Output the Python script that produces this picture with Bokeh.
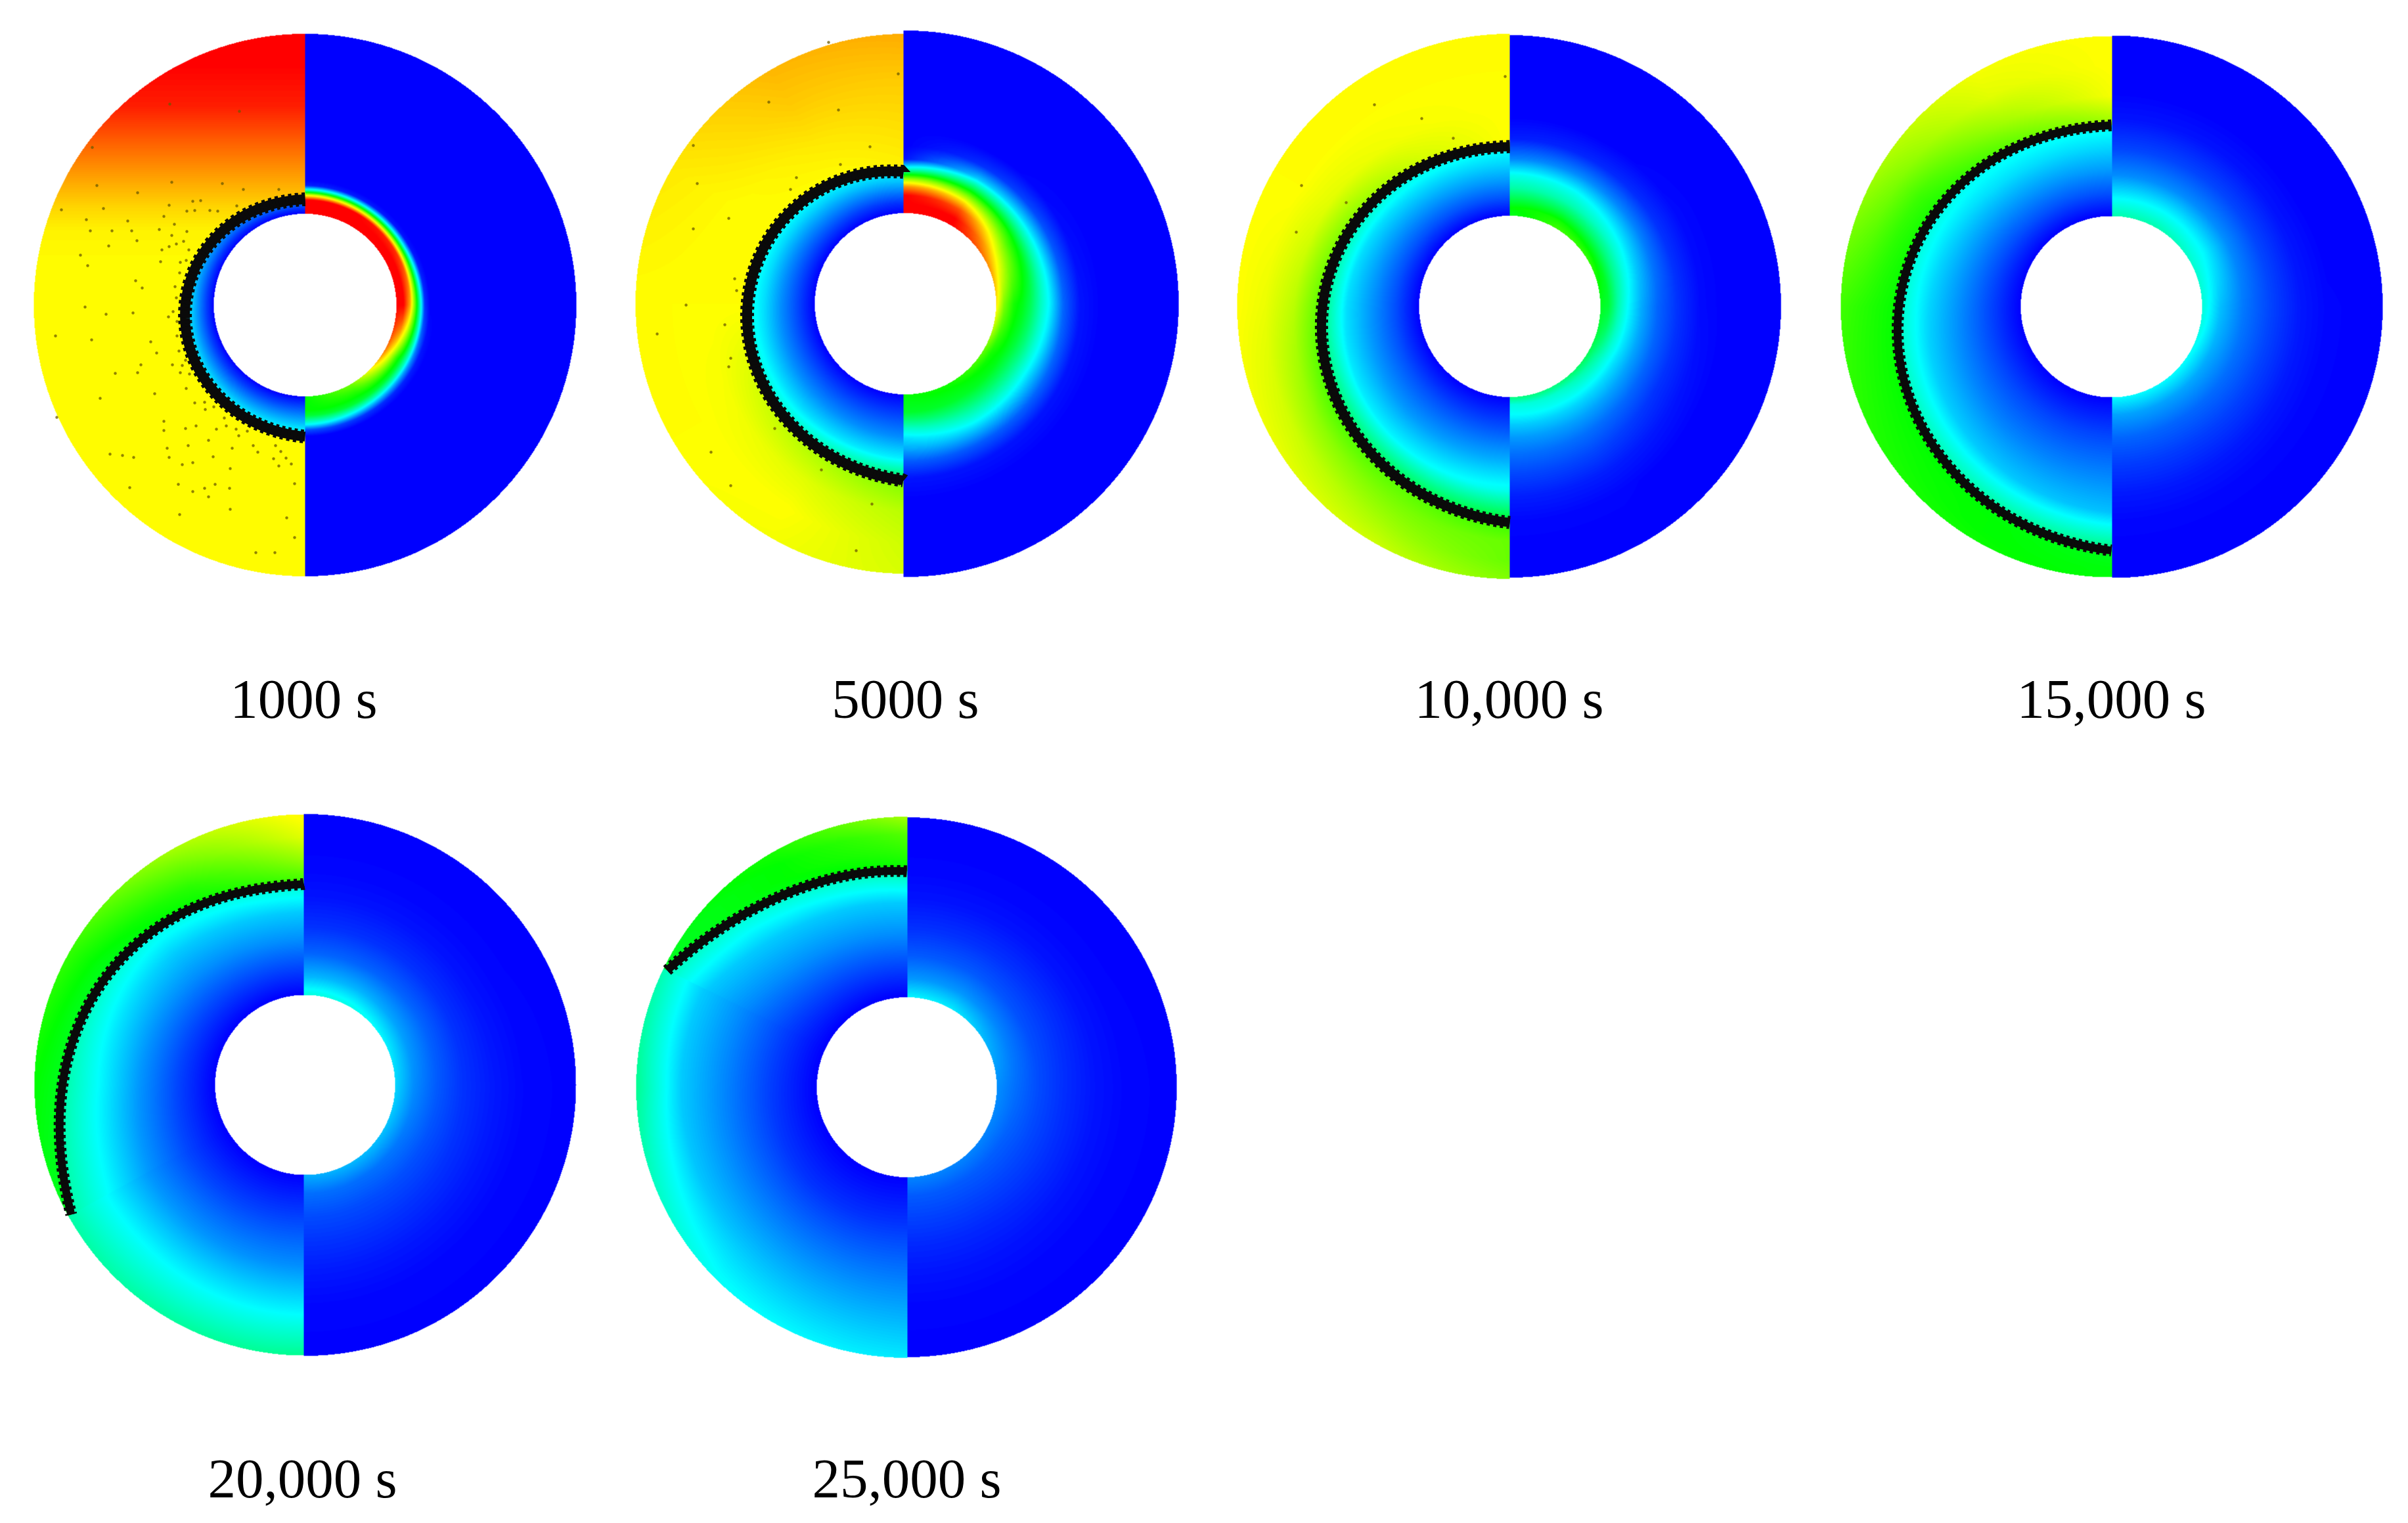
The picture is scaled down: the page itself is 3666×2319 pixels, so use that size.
import numpy as np
from bokeh.plotting import figure
from bokeh.models import Range1d, LinearColorMapper, ColumnDataSource
from bokeh.core.properties import value
from bokeh.embed import file_html
from bokeh.resources import INLINE

# ---- labels and positions of the six snapshots ----
labels = ["1000 s", "5000 s", "10,000 s", "15,000 s", "20,000 s", "25,000 s"]
label_x = [462, 1378, 2297, 3214, 460, 1380]
label_y = [1063, 1063, 1063, 1063, 2250, 2250]
disc_cx = [464, 1378, 2298, 3214, 464, 1380]
disc_cy = [464, 462, 466, 466.5, 1651.5, 1655]
disc_split = [464, 1375, 2298, 3215, 462, 1381]
disc_rl = [413, 411, 415, 412, 412, 412]
disc_rr = [413, 416, 413, 413, 412.5, 411]
disc_hole = [139, 138, 138, 138, 137, 137]
front_width = [15, 15, 14, 12, 12, 12]

# ---- front position: angle from the top (deg), radius ----
front_phi = [
    [0, 20, 40, 61, 80, 94, 117, 133, 153, 180],
    [0, 32, 51, 68, 84, 94, 110, 125, 142, 161, 180],
    [0, 19, 35, 52, 68, 82, 94, 112, 129, 145, 161, 180],
    [0, 18, 36, 55, 73, 88, 98.5, 118, 136, 154, 180],
    [0, 16.5, 32.5, 50, 62, 75, 89, 100, 119],
    [0, 14.8, 29, 41, 53, 64],
]
front_r = [
    [161, 162, 166, 172.5, 180, 184, 188, 190, 195, 200],
    [201, 213, 224, 233, 240, 242, 244, 250, 253, 264, 268],
    [244, 245, 250, 262.6, 272, 284, 288, 292, 302, 312, 321.5, 327.5],
    [276, 277.5, 287, 295, 312.6, 325, 328.6, 338, 346.7, 357, 371],
    [305, 311, 317.5, 330.7, 347, 358.8, 370, 376, 408],
    [329, 334, 345, 358, 379, 406],
]

# ---- left half, below the front: colour level (0 blue, .25 cyan, .5 green, .75 yellow, 1 red) ----
in_phi = [0, 45, 90, 135, 180]
in_s = [0, .25, .5, .75, 1]
inside = [
    [[0, .03, .07, .10, .13], [0, .04, .09, .13, .17], [0, .06, .13, .20, .25], [0, .06, .13, .20, .27], [0, .07, .14, .21, .28]],
    [[0, .05, .12, .19, .24], [0, .07, .14, .21, .27], [0, .07, .14, .22, .28], [0, .07, .14, .22, .32], [0, .07, .14, .24, .42]],
    [[0, .08, .15, .21, .26], [0, .08, .15, .22, .30], [0, .08, .15, .22, .38], [0, .08, .15, .24, .42], [0, .08, .17, .27, .47]],
    [[0, .08, .15, .21, .27], [0, .08, .15, .22, .27], [0, .07, .14, .21, .31], [0, .07, .13, .20, .34], [0, .07, .13, .19, .38]],
    [[0, .07, .14, .20, .30], [0, .07, .14, .20, .28], [0, .07, .15, .245, .34], [0, .07, .15, .25, .34], [0, .07, .14, .24, .36]],
    [[0, .07, .14, .20, .33], [0, .07, .14, .20, .30], [0, .06, .13, .20, .36], [0, .05, .12, .19, .26], [0, .05, .11, .17, .23]],
]

# ---- left half, above the front ----
out_phi = [0, 30, 60, 90, 120, 150, 180]
out_s = [0, .33, .67, 1]
outside = [
    None,
    [[.76, .78, .80, .83], [.75, .77, .80, .82], [.75, .75, .76, .77], [.75, .75, .75, .75], [.70, .74, .75, .75], [.66, .72, .75, .74], [.62, .68, .70, .71]],
    [[.75, .75, .75, .75], [.70, .74, .75, .75], [.62, .72, .75, .75], [.58, .68, .73, .75], [.56, .64, .70, .73], [.58, .62, .66, .70], [.55, .60, .60, .625]],
    [[.64, .74, .75, .75], [.58, .66, .72, .74], [.52, .56, .62, .66], [.50, .52, .54, .56], [.50, .51, .52, .53], [.49, .50, .50, .51], [.47, .48, .49, .49]],
    [[.55, .64, .72, .76], [.50, .54, .60, .66], [.47, .49, .52, .55], [.47, .48, .49, .50], [.47, .47, .47, .47], [.47, .47, .47, .47], [.47, .47, .47, .47]],
    [[.50, .54, .58, .66], [.48, .50, .50, .52], [.47, .47, .47, .47], [.47, .47, .47, .47], [.47, .47, .47, .47], [.47, .47, .47, .47], [.47, .47, .47, .47]],
]
# the first snapshot is layered by height above the front
layer_y = [51, 95, 161, 220, 271, 315, 352, 411, 880]
layer_v = [1, 1, .97, .90, .84, .79, .76, .75, .75]

# ---- right half: radius nodes and colour level per angle ----
right_phi = [0, 30, 60, 90, 120, 150, 180]
right_r = [
    [138, 150, 160, 168, 175, 182, 190, 200, 420],
    [138, 150, 165, 178, 190, 205, 220, 240, 265, 300, 420],
    [138, 150, 165, 180, 200, 225, 255, 290, 330, 420],
    [138, 165, 200, 240, 285, 330, 420],
    [138, 165, 200, 240, 285, 330, 420],
    [138, 165, 200, 240, 285, 330, 420],
]
right_v = [
    [[1, 1, 1, .70, .30, .03, 0, 0, 0], [1, 1, 1, .65, .28, .03, 0, 0, 0], [1, 1, .95, .60, .25, .02, 0, 0, 0],
     [1, 1, .83, .58, .32, .05, 0, 0, 0], [.90, .72, .55, .45, .32, .15, .03, 0, 0], [.62, .55, .50, .45, .33, .20, .05, 0, 0],
     [.50, .50, .50, .45, .35, .25, .08, 0, 0]],
    [[1, 1, 1, .86, .65, .30, .02, 0, 0, 0, 0], [1, 1, .92, .78, .62, .40, .20, .05, 0, 0, 0],
     [.88, .80, .68, .58, .50, .35, .22, .08, .01, 0, 0], [.78, .62, .52, .48, .42, .32, .24, .10, .02, 0, 0],
     [.60, .52, .48, .42, .36, .28, .20, .10, .02, 0, 0], [.52, .49, .46, .40, .34, .27, .19, .09, .02, 0, 0],
     [.50, .48, .46, .38, .30, .22, .17, .09, .02, 0, 0]],
    [[.47, .50, .42, .34, .27, .13, .03, 0, 0, 0], [.56, .52, .42, .33, .26, .14, .04, 0, 0, 0],
     [.55, .48, .38, .30, .22, .13, .05, .01, 0, 0], [.47, .45, .33, .25, .17, .10, .05, .01, 0, 0],
     [.42, .35, .28, .22, .16, .10, .05, .02, 0, 0], [.38, .30, .26, .21, .16, .11, .07, .03, .005, 0],
     [.38, .28, .25, .20, .15, .11, .07, .03, .005, 0]],
    [[.33, .25, .14, .07, .02, 0, 0], [.33, .25, .14, .07, .02, 0, 0], [.30, .24, .14, .07, .02, 0, 0],
     [.29, .19, .12, .07, .025, .005, 0], [.26, .17, .11, .065, .025, .005, 0], [.25, .16, .10, .06, .025, .005, 0],
     [.25, .16, .10, .06, .025, .005, 0]],
    [[.28, .18, .10, .05, .02, .005, 0], [.27, .18, .10, .05, .02, .005, 0], [.24, .16, .10, .05, .02, .005, 0],
     [.21, .14, .09, .05, .025, .008, 0], [.19, .12, .08, .05, .025, .008, 0], [.18, .11, .075, .05, .025, .008, 0],
     [.17, .11, .075, .05, .025, .008, 0]],
    [[.24, .15, .09, .05, .02, .005, 0], [.23, .15, .09, .05, .02, .005, 0], [.18, .13, .08, .05, .02, .005, 0],
     [.14, .11, .075, .045, .02, .007, 0], [.13, .095, .07, .045, .02, .007, 0], [.13, .09, .065, .04, .02, .007, 0],
     [.13, .09, .065, .04, .02, .007, 0]],
]

# ---- scattered particles seen in the first three snapshots ----
dots_x = [258, 364, 140, 261, 338, 424, 86,
          209, 93, 157, 131, 194, 137, 170, 200, 208, 165, 122, 133, 257, 249, 265, 242, 261, 284, 279, 268, 257, 246, 287, 244,
          274, 283, 273, 206, 216, 266, 268, 129, 161, 202, 263, 256, 269, 84, 139, 229, 269, 238, 272, 282, 214, 262, 277, 175,
          209, 274, 288, 293, 305, 284, 296, 319, 331, 360, 370, 147,
          235, 283, 296, 311, 325, 312, 341, 249, 249, 282, 298, 329, 344, 359, 363, 376, 317, 286, 254, 353, 385, 392, 419, 427,
          167, 186, 203, 257, 324, 416, 435, 277, 293, 424, 443, 350, 271, 327, 197, 311, 349, 293, 317, 448, 350, 273, 436, 448,
          389, 418, 152,
          1261, 1367, 1170, 1276, 1055, 1324, 1279, 1061, 1212, 1203, 1109, 1055, 1118, 1121, 1044, 1103, 1000, 1112, 1109,
          1179, 1082, 1250, 1112, 1327, 1303,
          2291, 2092, 2164, 2212, 1981, 2049, 1973]
dots_y = [158, 169, 224, 277, 279, 288, 635,
          293, 319, 317, 334, 336, 351, 351, 351, 366, 374, 388, 404, 312, 329, 341, 349, 358, 352, 367, 371, 375, 380, 380, 398,
          399, 396, 415, 427, 438, 436, 453, 467, 478, 476, 474, 482, 489, 511, 517, 520, 511, 537, 534, 548, 555, 555, 556, 568,
          567, 567, 569, 306, 305, 321, 320, 320, 321, 313, 288, 282,
          599, 591, 613, 612, 619, 623, 636, 641, 655, 652, 648, 653, 648, 653, 663, 656, 670, 678, 682, 682, 678, 688, 678, 687,
          691, 693, 696, 696, 695, 698, 697, 707, 704, 709, 706, 713, 737, 737, 742, 743, 743, 748, 756, 736, 775, 783, 788, 818,
          841, 841, 606,
          64, 112, 155, 167, 221, 223, 250, 279, 270, 288, 332, 348, 424, 442, 464, 494, 508, 545, 558,
          652, 688, 715, 739, 767, 838,
          116, 159, 180, 210, 282, 308, 353]


def bilinear(a, b, an, bn, t):
    an, bn, t = np.asarray(an, float), np.asarray(bn, float), np.asarray(t, float)
    ia = np.clip(np.searchsorted(an, a) - 1, 0, len(an) - 2)
    ib = np.clip(np.searchsorted(bn, b) - 1, 0, len(bn) - 2)
    fa = np.clip((a - an[ia]) / (an[ia + 1] - an[ia]), 0, 1)
    fb = np.clip((b - bn[ib]) / (bn[ib + 1] - bn[ib]), 0, 1)
    return (t[ia, ib] * (1 - fa) * (1 - fb) + t[ia + 1, ib] * fa * (1 - fb)
            + t[ia, ib + 1] * (1 - fa) * fb + t[ia + 1, ib + 1] * fa * fb)


def front_curve(i, phi):
    """Smooth curve through the radii read for a front."""
    n = len(front_phi[i])
    c = np.polyfit(front_phi[i], front_r[i], min(4, n - 3))
    return np.polyval(c, phi)


def field(i):
    cx, cy, sp, rl, rr, ri = (disc_cx[i], disc_cy[i], disc_split[i], disc_rl[i], disc_rr[i], disc_hole[i])
    x0, y0 = int(cx - 425), int(cy - 425)
    xs = np.arange(x0, x0 + 850) + 0.5
    ys = np.arange(y0, y0 + 850) + 0.5
    ys = ys[::-1]  # row 0 is the lowest data value, i.e. the lowest on the page
    X, Y = np.meshgrid(xs, ys)
    dx, dy = X - cx, Y - cy
    r = np.hypot(dx, dy)
    phi = np.degrees(np.arctan2(np.abs(dx), -dy))
    v = np.full(X.shape, np.nan, dtype=np.float32)

    # left half
    m = (X < sp) & (r >= ri) & (r <= rl)
    rm, pm, ym = r[m], phi[m], Y[m]
    rf = np.where(pm > front_phi[i][-1], rl + 50.0, front_curve(i, pm))
    rc = np.minimum(rf, rl)
    vals = np.empty(rm.shape)
    ins = rm <= rf
    vals[ins] = bilinear(pm[ins], (rm[ins] - ri) / (rc[ins] - ri), in_phi, in_s, inside[i])
    o = ~ins
    if outside[i] is None:
        vals[o] = np.interp(ym[o], layer_y, layer_v)
    else:
        vals[o] = bilinear(pm[o], (rm[o] - rc[o]) / np.maximum(rl - rc[o], 1.0), out_phi, out_s, outside[i])
    v[m] = vals

    # right half
    m = (X >= sp) & (r >= ri) & (r <= rr)
    v[m] = bilinear(phi[m], r[m], right_phi, right_r[i], right_v[i])
    return v.astype(np.float32), x0, y0


W, H = 3650, 2303
p = figure(width=W, height=H, output_backend="svg", toolbar_location=None,
           x_range=Range1d(0, W), y_range=Range1d(-H, 0),
           min_border=0, min_border_left=0, min_border_right=0, min_border_top=0, min_border_bottom=0,
           background_fill_color="white", border_fill_color="white", outline_line_color=None)
p.xaxis.visible = False
p.yaxis.visible = False
p.xgrid.visible = False
p.ygrid.visible = False

stops = [(0, 0, 255), (0, 255, 255), (0, 255, 0), (255, 255, 0), (255, 0, 0)]
palette = []
for k in range(256):
    t = k / 255 * 4
    j = min(int(t), 3)
    f = t - j
    c = [round(stops[j][n] * (1 - f) + stops[j + 1][n] * f) for n in range(3)]
    palette.append("#%02x%02x%02x" % tuple(c))
mapper = LinearColorMapper(palette=palette, low=0, high=1, nan_color="rgba(0,0,0,0)")

for i in range(6):
    v, x0, y0 = field(i)
    p.image(image=[v], x=x0, y=-(y0 + 850), dw=850, dh=850, color_mapper=mapper)

p.scatter(dots_x, [-y for y in dots_y], size=4.5, color="#6b5a00", alpha=0.75, line_color=None)

for i in range(6):
    a = np.linspace(front_phi[i][0], front_phi[i][-1], 240)
    rad = front_curve(i, a)
    fx = np.minimum(disc_cx[i] - rad * np.sin(np.radians(a)), disc_split[i])
    fy = -(disc_cy[i] - rad * np.cos(np.radians(a)))
    src = ColumnDataSource(dict(x=fx, y=fy))
    p.line("x", "y", source=src, line_color="#0a0a0a", line_width=front_width[i])
    p.line("x", "y", source=src, line_color="#0a0a0a", line_width=front_width[i] + 6, line_dash="5 5")

p.text(label_x, [-y for y in label_y], text=labels, text_font=value("Liberation Serif"),
       text_font_size="85px", text_align="center", text_baseline="middle", text_color="#000000")

open("out.html", "w").write(file_html(p, INLINE))
